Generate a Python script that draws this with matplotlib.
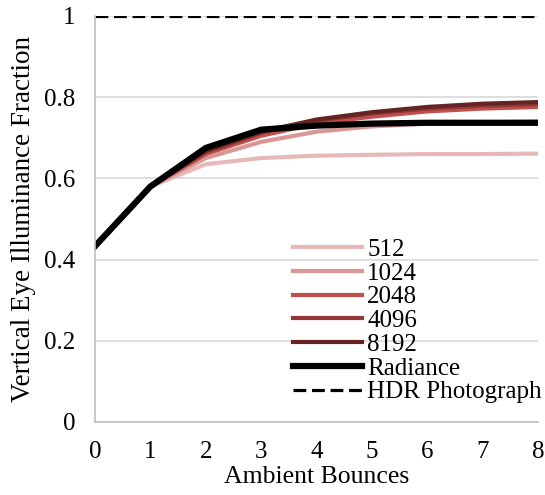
import matplotlib
matplotlib.use('Agg')
import matplotlib.pyplot as plt

plt.rcParams['font.family'] = ['Liberation Serif', 'DejaVu Serif']

bounces = [0, 1, 2, 3, 4, 5, 6, 7, 8]
s512 = [0.433, 0.58, 0.635, 0.650, 0.656, 0.658, 0.660, 0.660, 0.661]
s1024 = [0.433, 0.58, 0.650, 0.690, 0.715, 0.728, 0.735, 0.738, 0.740]
s2048 = [0.433, 0.58, 0.660, 0.705, 0.735, 0.752, 0.765, 0.772, 0.776]
s4096 = [0.433, 0.58, 0.665, 0.712, 0.742, 0.760, 0.772, 0.779, 0.783]
s8192 = [0.433, 0.58, 0.668, 0.715, 0.745, 0.763, 0.776, 0.784, 0.788]
radiance = [0.433, 0.58, 0.675, 0.720, 0.730, 0.735, 0.737, 0.737, 0.737]
hdr = [1, 1, 1, 1, 1, 1, 1, 1, 1]

series = [("512", s512, "#E6B9B8"), ("1024", s1024, "#D99694"),
          ("2048", s2048, "#C0504D"), ("4096", s4096, "#953735"),
          ("8192", s8192, "#632523")]

fig = plt.figure(figsize=(5.45, 4.95), dpi=100)
ax = fig.add_axes([95/545, 73/495, 443/545, 406/495])

for name, vals, col in series:
    ax.plot(bounces, vals, color=col, lw=3, label=name)
ax.plot(bounces, radiance, color='black', lw=4.5, label='Radiance')
ax.plot(bounces, hdr, color='black', lw=2.3, ls=(0, (4, 1.8)), label='HDR Photograph')

ax.set_xlim(0, 8)
ax.set_ylim(0, 1)
ax.set_yticks([0, 0.2, 0.4, 0.6, 0.8, 1])
ax.set_yticklabels(['0', '0.2', '0.4', '0.6', '0.8', '1'])
ax.set_xticks(bounces)
ax.tick_params(axis='y', length=0, labelsize=18, pad=14)
ax.tick_params(axis='x', length=0, labelsize=18, pad=14)
ax.grid(axis='y', color='#D9D9D9', lw=1.2)
ax.set_axisbelow(True)
for sp in ['top', 'right']:
    ax.spines[sp].set_visible(False)
for sp in ['left', 'bottom']:
    ax.spines[sp].set_color('#BFBFBF')
    ax.spines[sp].set_linewidth(1.2)

ax.set_xlabel('Ambient Bounces', fontsize=18.5, labelpad=2)
ax.set_ylabel('Vertical Eye Illuminance Fraction', fontsize=19.5, labelpad=6)

ax.legend(loc='upper left', bbox_to_anchor=(0.447, 0.452), frameon=False,
          fontsize=18, handlelength=2.76, handletextpad=0.2, labelspacing=0.05,
          borderpad=0, borderaxespad=0)

fig.savefig('out.png', dpi=100)
